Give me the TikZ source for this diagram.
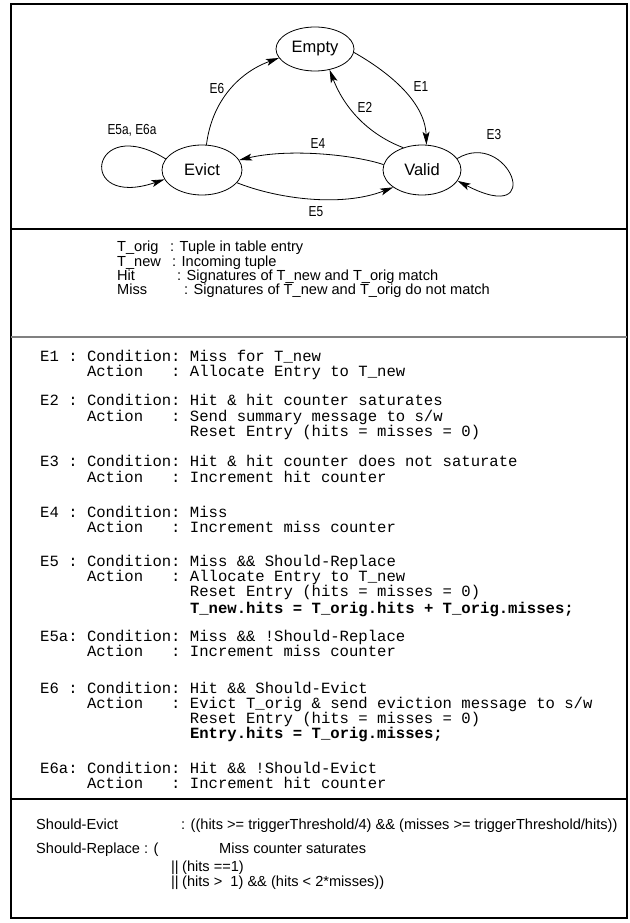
\documentclass[tikz,border=0pt]{standalone}
\usepackage{fontspec}
\setmainfont{Liberation Sans}
\setmonofont{Liberation Mono}
\newfontfamily\narrowfont{Liberation Sans}[FakeStretch=0.82]
\usetikzlibrary{arrows.meta,shapes.geometric}
\newcommand\monoline[3]{\node[mono] (#1) at (40,-#2) {#3};}
\newcommand\monobold[3]{\node[monob] (#1) at (189.8,-#2) {#3};}
\begin{document}
\begin{tikzpicture}[x=1pt,y=1pt,
  state/.style={draw, ellipse, line width=0.8pt, inner sep=0pt, font=\fontsize{16.5}{16.5}\selectfont},
  edge/.style={line width=0.8pt, -{Stealth[length=13pt,width=7pt,inset=3pt]}},
  elabel/.style={font=\narrowfont\fontsize{14.5}{14.5}\selectfont, inner sep=0pt},
  mono/.style={font=\ttfamily\fontsize{15.6}{15.6}\selectfont, anchor=base west, inner sep=0pt},
  monob/.style={font=\ttfamily\bfseries\fontsize{15.6}{15.6}\selectfont, anchor=base west, inner sep=0pt},
  sans/.style={font=\fontsize{14.6}{14.6}\selectfont, anchor=base west, inner sep=0pt},
  frame/.style={line width=1.2pt}
]
\useasboundingbox (0,0) rectangle (629,-923);
% frame and dividers
\draw[frame] (11,-4) rectangle (627,-918);
\draw[frame] (11,-229) -- (627,-229);
\draw[line width=2pt, black!50] (11,-337) -- (627,-337);
\draw[frame] (11,-799) -- (627,-799);

% states
\node[state, minimum width=78pt, minimum height=44pt] (empty) at (315,-49) {Empty};
\node[state, minimum width=80pt, minimum height=50pt] (evict) at (202,-170) {Evict};
\node[state, minimum width=78pt, minimum height=50pt] (valid) at (422,-170) {Valid};

% transitions
\draw[edge] (evict.80) .. controls (212,-100) and (240,-72) .. (empty.194);
\draw[edge] (empty.-5) .. controls (385,-70) and (425,-100) .. (valid.80);
\draw[edge] (valid.130) .. controls (370,-135) and (345,-110) .. (empty.-55);
\draw[edge] (valid.172) .. controls (355,-155) and (290,-148) .. (evict.15);
\draw[edge] (evict.-20) .. controls (275,-198) and (340,-208) .. (valid.211);
\draw[edge] (evict.163) .. controls (90,-112) and (75,-210) .. (evict.194);
\draw[edge] (valid.18) .. controls (508,-128) and (548,-228) .. (valid.-17);

% transition labels
\node[elabel] (lE6) at (217,-89) {E6};
\node[elabel] (lE1) at (421,-87) {E1};
\node[elabel] (lE2) at (365,-107) {E2};
\node[elabel] (lE4) at (318,-144) {E4};
\node[elabel] (lE3) at (494,-135) {E3};
\node[elabel] (lE5a) at (132,-130) {E5a, E6a};
\node[elabel] (lE5) at (316,-212) {E5};

% legend
\node[sans] (g1) at (117,-251) {T\_orig};
\node[sans] (g1v) at (170,-251) {: Tuple in table entry};
\node[sans] (g2) at (117,-266) {T\_new};
\node[sans] (g2v) at (172,-266) {: Incoming tuple};
\node[sans] (g3) at (117,-280) {Hit};
\node[sans] (g3v) at (177,-280) {: Signatures of T\_new and T\_orig match};
\node[sans] (g4) at (117,-294) {Miss};
\node[sans] (g4v) at (184,-294) {: Signatures of T\_new and T\_orig do not match};

% conditions / actions
\monoline{a1}{361.5}{E1~:~Condition:~Miss~for~T\_new}
\monoline{a2}{376.5}{~~~~~Action~~~:~Allocate~Entry~to~T\_new}
\monoline{b1}{405.5}{E2~:~Condition:~Hit~\&~hit~counter~saturates}
\monoline{b2}{421.5}{~~~~~Action~~~:~Send~summary~message~to~s/w}
\monoline{b3}{436.5}{~~~~~~~~~~~~~~~~Reset~Entry~(hits~=~misses~=~0)}
\monoline{c1}{466.5}{E3~:~Condition:~Hit~\&~hit~counter~does~not~saturate}
\monoline{c2}{482.5}{~~~~~Action~~~:~Increment~hit~counter}
\monoline{d1}{517.5}{E4~:~Condition:~Miss}
\monoline{d2}{532.5}{~~~~~Action~~~:~Increment~miss~counter}
\monoline{e1}{566.5}{E5~:~Condition:~Miss~\&\&~Should-Replace}
\monoline{e2}{581.5}{~~~~~Action~~~:~Allocate~Entry~to~T\_new}
\monoline{e3}{596.5}{~~~~~~~~~~~~~~~~Reset~Entry~(hits~=~misses~=~0)}
\monobold{e4}{613.5}{T\_new.hits~=~T\_orig.hits~+~T\_orig.misses;}
\monoline{f1}{641.5}{E5a:~Condition:~Miss~\&\&~!Should-Replace}
\monoline{f2}{656.5}{~~~~~Action~~~:~Increment~miss~counter}
\monoline{h1}{693.5}{E6~:~Condition:~Hit~\&\&~Should-Evict}
\monoline{h2}{708.5}{~~~~~Action~~~:~Evict~T\_orig~\&~send~eviction~message~to~s/w}
\monoline{h3}{723.5}{~~~~~~~~~~~~~~~~Reset~Entry~(hits~=~misses~=~0)}
\monobold{h4}{738.5}{Entry.hits~=~T\_orig.misses;}
\monoline{k1}{773.5}{E6a:~Condition:~Hit~\&\&~!Should-Evict}
\monoline{k2}{788.5}{~~~~~Action~~~:~Increment~hit~counter}

% definitions
\node[sans] (s1) at (36,-829) {Should-Evict};
\node[sans] (s1v) at (181,-829) {: ((hits >= triggerThreshold/4) \&\& (misses >= triggerThreshold/hits))};
\node[sans] (s2) at (36,-853.5) {Should-Replace : (};
\node[sans] (s2v) at (219,-853.5) {Miss counter saturates};
\node[sans] (s3b) at (171,-871.5) {||};
\node[sans] (s3v) at (182,-871.5) {(hits ==1)};
\node[sans] (s4b) at (171,-886) {||};
\node[sans] (s4v) at (182,-886) {(hits >\ \ 1) \&\& (hits < 2*misses))};
\end{tikzpicture}
\end{document}
